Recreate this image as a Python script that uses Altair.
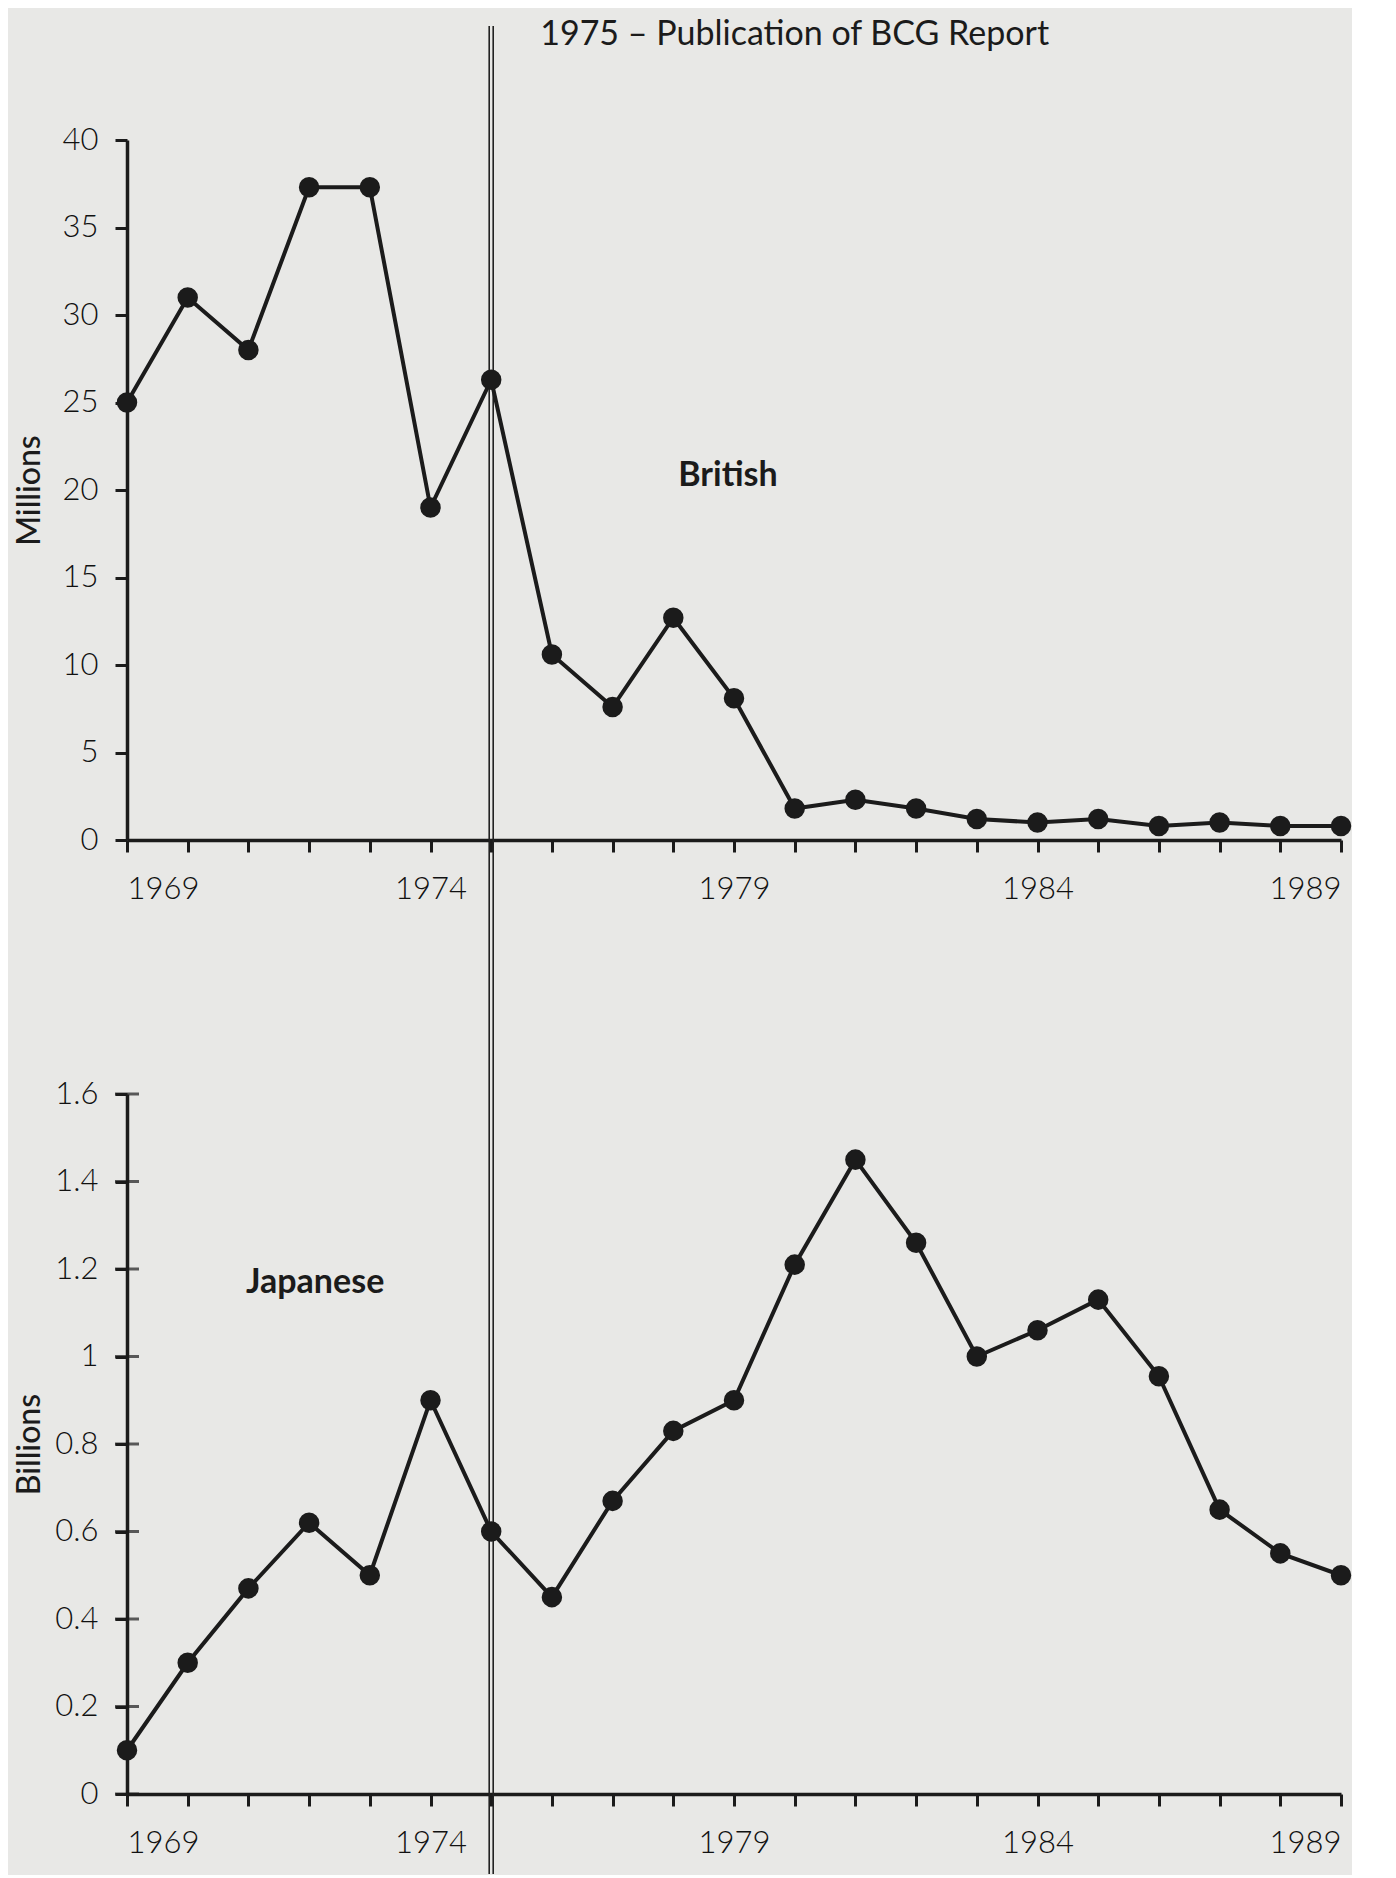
import altair as alt
import pandas as pd

# ---- data ----
years = list(range(1969, 1990))
british_millions = [25, 31, 28, 37.3, 37.3, 19, 26.3, 10.6, 7.6, 12.7, 8.1,
                    1.8, 2.3, 1.8, 1.2, 1.0, 1.2, 0.8, 1.0, 0.8, 0.8]
japanese_billions = [0.1, 0.3, 0.47, 0.62, 0.5, 0.9, 0.6, 0.45, 0.67, 0.83, 0.9,
                     1.21, 1.45, 1.26, 1.0, 1.06, 1.13, 0.955, 0.65, 0.55, 0.5]
top_ticks = [0, 5, 10, 15, 20, 25, 30, 35, 40]
bottom_ticks = [0, 0.2, 0.4, 0.6, 0.8, 1.0, 1.2, 1.4, 1.6]
event_year = 1975
event_text = "1975 – Publication of BCG Report"

df_b = pd.DataFrame({"year": years, "value": british_millions})
df_j = pd.DataFrame({"year": years, "value": japanese_billions})
df_jt = pd.DataFrame({"tick": bottom_ticks})

INK = "#1b1b1b"
BG = "#e8e8e6"
FONT = "Lato"
W, H = 1214, 700
GAP = 254

xscale = alt.Scale(domain=[1969, 1989], nice=False, zero=False)
xaxis = alt.Axis(values=years, format="d", labelExpr="datum.value % 5 == 4 ? datum.label : ''",
                 title=None, tickSize=12, labelPadding=22, orient="bottom")


def yaxis(values, title, fmt):
    return alt.Axis(values=values, format=fmt, title=title, tickSize=12, labelPadding=17,
                    titleX=-88, titleBaseline="alphabetic", titleAngle=-90,
                    titleFont=FONT, titleFontSize=32, titleFontWeight=500, titleColor=INK)


def double_rule(y_top, y_bottom):
    layers = []
    for off in (-2, 2):
        layers.append(
            alt.Chart().mark_rule(color="#222", strokeWidth=1.6, xOffset=off).encode(
                x=alt.datum(event_year, scale=xscale),
                y=alt.value(y_top), y2=alt.value(y_bottom))
        )
    return layers


# ---- top panel: British ----
yb = alt.Y("value:Q", scale=alt.Scale(domain=[0, 40], nice=False),
           axis=yaxis(top_ticks, "Millions", "d"))
top_line = alt.Chart(df_b).mark_line(color=INK, strokeWidth=4).encode(
    x=alt.X("year:Q", scale=xscale, axis=xaxis), y=yb)
top_pts = alt.Chart(df_b).mark_circle(color=INK, opacity=1, size=420).encode(
    x=alt.X("year:Q", scale=xscale), y=alt.Y("value:Q"))
top_label = alt.Chart().mark_text(text="British", font=FONT, fontSize=34, fontWeight="bold",
                                  color=INK, align="center", baseline="middle").encode(
    x=alt.datum(1978.9), y=alt.datum(20.8))
top_title = alt.Chart().mark_text(text=event_text, font=FONT, fontSize=34, color=INK,
                                  align="left", baseline="alphabetic", dx=49).encode(
    x=alt.datum(event_year), y=alt.value(-95))

top = alt.layer(*double_rule(-114, H + GAP), top_line, top_pts, top_label, top_title).properties(
    width=W, height=H)

# ---- bottom panel: Japanese ----
yj = alt.Y("value:Q", scale=alt.Scale(domain=[0, 1.6], nice=False),
           axis=yaxis(bottom_ticks, "Billions", ".1~f"))
bot_line = alt.Chart(df_j).mark_line(color=INK, strokeWidth=4).encode(
    x=alt.X("year:Q", scale=xscale, axis=xaxis), y=yj)
bot_pts = alt.Chart(df_j).mark_circle(color=INK, opacity=1, size=420).encode(
    x=alt.X("year:Q", scale=xscale), y=alt.Y("value:Q"))
bot_ticks = alt.Chart(df_jt).mark_tick(color=INK, orient="horizontal", size=24, thickness=3).encode(
    x=alt.datum(1969), y=alt.Y("tick:Q"))
bot_label = alt.Chart().mark_text(text="Japanese", font=FONT, fontSize=34, fontWeight="bold",
                                  color=INK, align="center", baseline="middle").encode(
    x=alt.datum(1972.1), y=alt.datum(1.167))

bottom = alt.layer(*double_rule(0, H + 80), bot_line, bot_pts, bot_ticks, bot_label).properties(
    width=W, height=H)

chart = alt.vconcat(top, bottom, spacing=GAP, bounds="flush").properties(
    background=BG,
    padding={"top": 10, "left": 5, "right": 0, "bottom": 0},
).configure_view(stroke=None).configure_axis(
    grid=False,
    domainColor=INK, domainWidth=3.5,
    tickColor=INK, tickWidth=3,
    labelFont=FONT, labelFontSize=31, labelFontWeight=300, labelColor="#111111",
)

chart.save("out.html", embed_options={"renderer": "svg", "actions": False})
